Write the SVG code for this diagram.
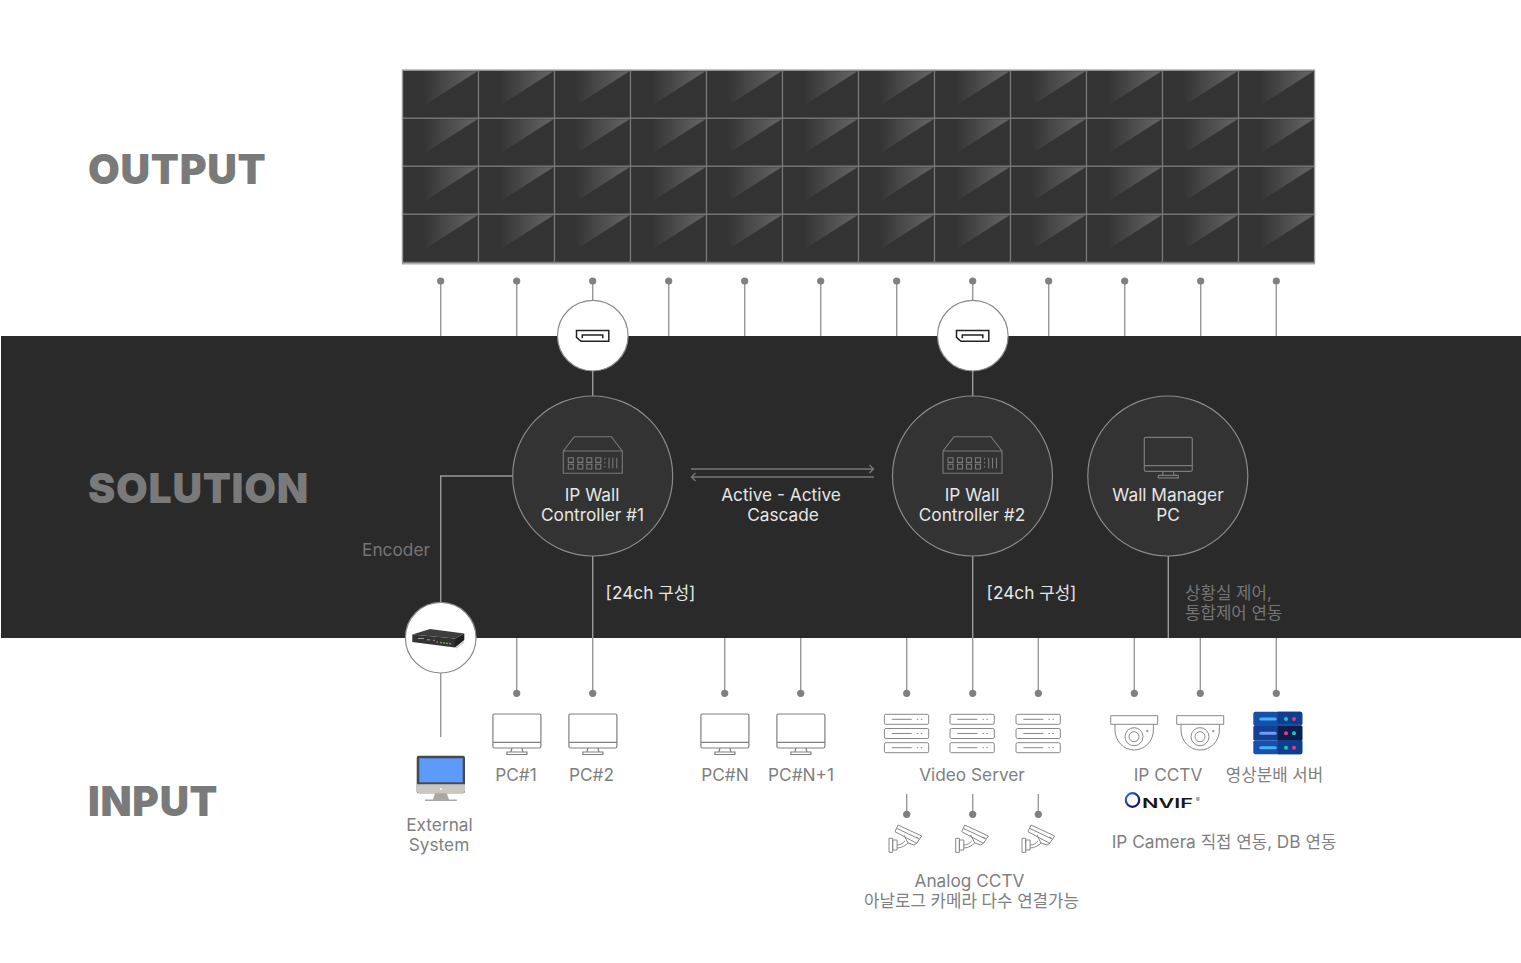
<svg xmlns="http://www.w3.org/2000/svg" width="1521" height="963" viewBox="0 0 1521 963">
<style>
text{font-family:"Inter","Noto Sans CJK KR","Noto Sans",sans-serif;font-size:17.25px;text-anchor:middle}
.k,tspan.k{font-size:16.8px}
.h{font-size:41px;font-weight:900;fill:#7a7a7a;text-anchor:start;letter-spacing:.7px}
.g{fill:#808080}
.w{fill:#e6e6e6}
.m{fill:#757575}
.c{fill:none;stroke:#999;stroke-width:1.4}
.d{fill:#808080}
.n{fill:#333;stroke:#8a8a8a;stroke-width:1.2}
.o{fill:#fff;stroke:#8a8a8a;stroke-width:1.2}
.i2{fill:none;stroke:#7a7a7a;stroke-width:1.1}
</style>
<defs>
<linearGradient id="gl" x1="0" x2="1" y1="0" y2="0"><stop offset="0" stop-color="#fff" stop-opacity="0"/><stop offset="1" stop-color="#fff" stop-opacity=".25"/></linearGradient>
<linearGradient id="on" x1="0" x2="1" y1="0" y2="1"><stop offset="0" stop-color="#3b7be0"/><stop offset=".55" stop-color="#1c2a9a"/><stop offset="1" stop-color="#0c0c40"/></linearGradient>
<g id="cell"><rect width="76" height="48" fill="#333" stroke="#777" stroke-width="1.2"/><polygon points="20,1 75,1 22,35" fill="url(#gl)"/></g>
<g id="hub"><path class="i2" d="M-29.500,-5 L-18.500,-19.300 H18.500 L29.500,-5 M-29.500,-5 H29.500 V17.300 H-29.500 Z"/><path class="i2" stroke-width="1" d="M-24.500,1.700h5v4.700h-5zM-15,1.700h5v4.700h-5zM-6,1.700h5v4.700h-5zM3,1.700h5v4.700h-5zM-24.500,8.300h5v4.700h-5zM-15,8.300h5v4.700h-5zM-6,8.300h5v4.700h-5zM3,8.300h5v4.700h-5zM16.200,1.700v10.600M20,1.700v10.600M24,1.700v10.600M12,2v1.500M12,6v1.500M12,10v1.500"/></g>
<g id="mon"><path d="M-24,-19.500a1.500,1.500 0 0 1 1.500,-1.500h45a1.500,1.500 0 0 1 1.500,1.500v31a1.500,1.500 0 0 1 -1.500,1.500h-45a1.500,1.500 0 0 1 -1.500,-1.500zM-24,7.300H24M-5,13l-1,4M5,13l1,4M-10,17h20v2.500h-20z" fill="none" stroke-width="1.200"/></g>
<g id="srv"><rect width="44.300" height="10" rx="1.500"/><rect y="14.200" width="44.300" height="10" rx="1.500"/><rect y="28.400" width="44.300" height="10" rx="1.500"/><path d="M7.400,5H27.400M32.400,5h1.500M36.400,5h1.500M7.400,19.200H27.400M32.400,19.200h1.500M36.400,19.200h1.500M7.400,33.400H27.400M32.400,33.400h1.500M36.400,33.400h1.500"/></g>
<g id="cam"><path d="M-17,-1.700h3.700v14h-3.700zM-13.300,0h4.400v10h-4.400zM-8.900,5C-5,5 -3,3 -1,1M-8.900,8C-4,8 0,5 2,3"/><path d="M-8,-15L15.700,-4 10.700,3.300 -11,-8.300ZM-9.500,-11.700L13.500,-0.800M-2,-5L2,3 8,5 11,3M10,-3l2.500,1.200"/></g>
<g id="dome"><path d="M-23.300,-10.300h47v8.600h-47zM-19,-1.700V4a19.200,20 0 0 0 38.400,0V-1.700"/><circle r="9" cy="10.700"/><circle r="5" cy="10.700"/><circle r=".8" cx="13.300" cy="5"/></g>
</defs>
<rect width="1521" height="963" fill="#fff"/>
<g id="band"><rect x="1" y="336" width="1520" height="302" fill="#2a2a2a"/></g>
<g id="video-wall">
<use href="#cell" x="402.500" y="70.300"/><use href="#cell" x="478.500" y="70.300"/><use href="#cell" x="554.500" y="70.300"/><use href="#cell" x="630.500" y="70.300"/><use href="#cell" x="706.500" y="70.300"/><use href="#cell" x="782.500" y="70.300"/><use href="#cell" x="858.500" y="70.300"/><use href="#cell" x="934.500" y="70.300"/><use href="#cell" x="1010.500" y="70.300"/><use href="#cell" x="1086.500" y="70.300"/><use href="#cell" x="1162.500" y="70.300"/><use href="#cell" x="1238.500" y="70.300"/>
<use href="#cell" x="402.500" y="118.300"/><use href="#cell" x="478.500" y="118.300"/><use href="#cell" x="554.500" y="118.300"/><use href="#cell" x="630.500" y="118.300"/><use href="#cell" x="706.500" y="118.300"/><use href="#cell" x="782.500" y="118.300"/><use href="#cell" x="858.500" y="118.300"/><use href="#cell" x="934.500" y="118.300"/><use href="#cell" x="1010.500" y="118.300"/><use href="#cell" x="1086.500" y="118.300"/><use href="#cell" x="1162.500" y="118.300"/><use href="#cell" x="1238.500" y="118.300"/>
<use href="#cell" x="402.500" y="166.300"/><use href="#cell" x="478.500" y="166.300"/><use href="#cell" x="554.500" y="166.300"/><use href="#cell" x="630.500" y="166.300"/><use href="#cell" x="706.500" y="166.300"/><use href="#cell" x="782.500" y="166.300"/><use href="#cell" x="858.500" y="166.300"/><use href="#cell" x="934.500" y="166.300"/><use href="#cell" x="1010.500" y="166.300"/><use href="#cell" x="1086.500" y="166.300"/><use href="#cell" x="1162.500" y="166.300"/><use href="#cell" x="1238.500" y="166.300"/>
<use href="#cell" x="402.500" y="214.300"/><use href="#cell" x="478.500" y="214.300"/><use href="#cell" x="554.500" y="214.300"/><use href="#cell" x="630.500" y="214.300"/><use href="#cell" x="706.500" y="214.300"/><use href="#cell" x="782.500" y="214.300"/><use href="#cell" x="858.500" y="214.300"/><use href="#cell" x="934.500" y="214.300"/><use href="#cell" x="1010.500" y="214.300"/><use href="#cell" x="1086.500" y="214.300"/><use href="#cell" x="1162.500" y="214.300"/><use href="#cell" x="1238.500" y="214.300"/>
<rect x="402.500" y="70.300" width="912" height="193.500" fill="none" stroke="#999" stroke-width="1.200"/>
</g>
<g id="section-labels"><text class="h" x="88" y="184">OUTPUT</text><text class="h" x="88" y="503">SOLUTION</text><text class="h" x="88" y="816" style="font-size:40.500px">INPUT</text></g>
<g id="connectors" class="c">
<path d="M440.700,281V336M516.700,281V336M592.700,281V301M668.700,281V336M744.700,281V336M820.700,281V336M896.700,281V336M972.700,281V301M1048.700,281V336M1124.700,281V336M1200.700,281V336M1276.300,281V336"/>
<path d="M592.700,371V396M972.700,371V396"/>
<path d="M513,476H440.700V603M440.700,673V737"/>
<path d="M592.700,556V693M972.700,556V693M1168.300,556V638"/>
<path d="M516.700,638V693M724.700,638V693M800.700,638V693M906.700,638V693M1038.300,638V693M1134.300,638V693M1200.300,638V693M1276.300,638V693"/>
<path d="M906.700,794V814M972.700,794V814M1038.300,794V814"/>
<path d="M691,469H873.500M869.500,465l4,4-4,4M874,477H691.500M695.500,473l-4,4 4,4" stroke="#777"/>
<g class="d" stroke="none"><circle cx="440.700" cy="281" r="3.600"/><circle cx="516.700" cy="281" r="3.600"/><circle cx="592.700" cy="281" r="3.600"/><circle cx="668.700" cy="281" r="3.600"/><circle cx="744.700" cy="281" r="3.600"/><circle cx="820.700" cy="281" r="3.600"/><circle cx="896.700" cy="281" r="3.600"/><circle cx="972.700" cy="281" r="3.600"/><circle cx="1048.700" cy="281" r="3.600"/><circle cx="1124.700" cy="281" r="3.600"/><circle cx="1200.700" cy="281" r="3.600"/><circle cx="1276.300" cy="281" r="3.600"/>
<circle cx="516.700" cy="693.300" r="3.600"/><circle cx="592.700" cy="693.300" r="3.600"/><circle cx="724.700" cy="693.300" r="3.600"/><circle cx="800.700" cy="693.300" r="3.600"/><circle cx="906.700" cy="693.300" r="3.600"/><circle cx="972.700" cy="693.300" r="3.600"/><circle cx="1038.300" cy="693.300" r="3.600"/><circle cx="1134.300" cy="693.300" r="3.600"/><circle cx="1200.300" cy="693.300" r="3.600"/><circle cx="1276.300" cy="693.300" r="3.600"/>
<circle cx="906.700" cy="814.300" r="3.600"/><circle cx="972.700" cy="814.300" r="3.600"/><circle cx="1038.300" cy="814.300" r="3.600"/></g>
</g>
<g id="port-1"><circle class="o" cx="592.800" cy="335.700" r="35.300"/><path d="M576.500,330.500H608.800V341.200H581L576.500,337.300ZM582.300,338.300V335H602.800V338.300" fill="none" stroke="#222" stroke-width="1.500"/></g>
<g id="port-2"><circle class="o" cx="972.800" cy="335.700" r="35.300"/><path d="M956.500,330.500H988.800V341.200H961L956.500,337.300ZM962.300,338.300V335H982.800V338.300" fill="none" stroke="#222" stroke-width="1.500"/></g>
<g id="controller-1"><circle class="n" cx="592.700" cy="476" r="80"/><use href="#hub" x="592.800" y="456"/><text class="w" x="592" y="501">IP Wall</text><text class="w" x="592.500" y="521">Controller #1</text></g>
<g id="controller-2"><circle class="n" cx="972.500" cy="476" r="80"/><use href="#hub" x="972.500" y="456"/><text class="w" x="972" y="501">IP Wall</text><text class="w" x="972" y="521">Controller #2</text></g>
<g id="wall-manager"><circle class="n" cx="1167.800" cy="476" r="80"/><use href="#mon" x="1168.300" y="458.300" stroke="#7a7a7a"/><text class="w" x="1168" y="501">Wall Manager</text><text class="w" x="1168" y="521">PC</text></g>
<g id="cascade-label"><text class="w" x="781" y="501">Active - Active</text><text class="w" x="783" y="521">Cascade</text></g>
<g id="solution-labels"><text class="m" x="396" y="556">Encoder</text><text class="w" x="650.500" y="599">[24ch <tspan class="k">구성</tspan>]</text><text class="w" x="1031.500" y="599">[24ch <tspan class="k">구성</tspan>]</text><text class="m k" x="1185" y="599" style="text-anchor:start">상황실 제어,</text><text class="m k" x="1185" y="619" style="text-anchor:start">통합제어 연동</text></g>
<g id="encoder"><circle class="o" cx="440.700" cy="637.700" r="35.300"/><path d="M412.300,634.500L455,638.500V647.500L412.300,642Z" fill="#333"/><path d="M455,638.500L464.300,633.500V640L455,647.500Z" fill="#1f1f1f"/><path d="M412.300,634.500L430,629L464.300,633.500L455,638.500Z" fill="#3d3d3d"/><path d="M456,648L464,642" stroke="#c4c4c4" stroke-width="1.200"/><path d="M418,638.500h6M427,639.800h3M433,640.300h2" stroke="#999" stroke-width="1"/><path d="M436.500,642l1.500,.2" stroke="#d8683a" stroke-width="1.500"/><path d="M440,642.500l12,1.400" stroke="#6da050" stroke-width="1.500" stroke-dasharray="2 1"/></g>
<g id="external-system"><rect x="416.700" y="755.700" width="48.300" height="37.600" rx="2" fill="#46494f"/><rect x="419.300" y="758.300" width="43.400" height="24" fill="#5d9bfb"/><path d="M416.700,784.300H465V790.300a3,3 0 0 1 -3,3H419.700a3,3 0 0 1 -3,-3Z" fill="#c9c7c0"/><path d="M435,793.300H446.700L449,799.500H456.700V801H425V799.500H433Z" fill="#a9a8a2"/><circle cx="441" cy="789" r="1" fill="#fff"/><text class="g" x="439.500" y="831">External</text><text class="g" x="439" y="851">System</text></g>
<g id="pc-1" stroke="#808080"><use href="#mon" x="516.900" y="735"/><text class="g" stroke="none" x="516" y="781">PC#1</text></g>
<g id="pc-2" stroke="#808080"><use href="#mon" x="592.900" y="735"/><text class="g" stroke="none" x="591.500" y="781">PC#2</text></g>
<g id="pc-n" stroke="#808080"><use href="#mon" x="724.900" y="735"/><text class="g" stroke="none" x="725" y="781">PC#N</text></g>
<g id="pc-n1" stroke="#808080"><use href="#mon" x="800.900" y="735"/><text class="g" stroke="none" x="801" y="781">PC#N+1</text></g>
<g id="video-servers" fill="none" stroke="#888" stroke-width="1"><use href="#srv" x="884.400" y="714.300"/><use href="#srv" x="950" y="714.300"/><use href="#srv" x="1016" y="714.300"/><text class="g" stroke="none" x="972" y="781">Video Server</text></g>
<g id="analog-cctv" fill="none" stroke="#888" stroke-width="1"><use href="#cam" x="906" y="840"/><use href="#cam" x="972.700" y="840"/><use href="#cam" x="1039" y="840"/><text class="g" stroke="none" x="969.500" y="887">Analog CCTV</text><text class="g k" stroke="none" x="971.500" y="906.500">아날로그 카메라 다수 연결가능</text></g>
<g id="ip-cctv" fill="none" stroke="#888" stroke-width="1"><use href="#dome" x="1134" y="726"/><use href="#dome" x="1200" y="726"/><text class="g" stroke="none" x="1168" y="781">IP CCTV</text></g>
<g id="onvif"><ellipse cx="1132.500" cy="800" rx="6.700" ry="6.800" fill="none" stroke="url(#on)" stroke-width="2.200"/><text x="1167.500" y="808" textLength="51" lengthAdjust="spacingAndGlyphs" style="font-size:12.500px;font-weight:600" fill="#161616">NVIF</text><text x="1197.700" y="802" style="font-size:6px" fill="#555">®</text></g>
<g id="distribution-server"><rect x="1253.300" y="711.700" width="49" height="14.300" rx="2" fill="#1650ab"/><rect x="1253.300" y="726" width="49" height="14.300" rx="1" fill="#133f95"/><rect x="1253.300" y="740.300" width="49" height="14" rx="2" fill="#1650ab"/><path d="M1277.700,711.700h22.600a2,2 0 0 1 2,2v10.300h-24.600zM1277.700,740.300h24.600v12a2,2 0 0 1 -2,2h-22.600z" fill="#0e3f8f"/><rect x="1277.700" y="726" width="24.600" height="14.300" fill="#0a1f4f"/><rect x="1259.300" y="717.500" width="17.400" height="3" rx="1.500" fill="#4ab0f5"/><rect x="1259.300" y="731.800" width="17.400" height="3" rx="1.500" fill="#6f9ef5"/><rect x="1259.300" y="746.200" width="17.400" height="3" rx="1.500" fill="#4ab0f5"/><g fill="#1dc8c0"><circle cx="1286" cy="719" r="2"/><circle cx="1294" cy="733.300" r="2"/><circle cx="1286" cy="747.700" r="2"/></g><g fill="#e8388c"><circle cx="1294" cy="719" r="2"/><circle cx="1286" cy="733.300" r="2"/><circle cx="1294" cy="747.700" r="2"/></g><text class="g k" x="1274.500" y="780.500">영상분배 서버</text></g>
<g id="ip-caption"><text class="g" x="1224" y="848">IP Camera <tspan class="k">직접 연동,</tspan> DB <tspan class="k">연동</tspan></text></g>
</svg>
